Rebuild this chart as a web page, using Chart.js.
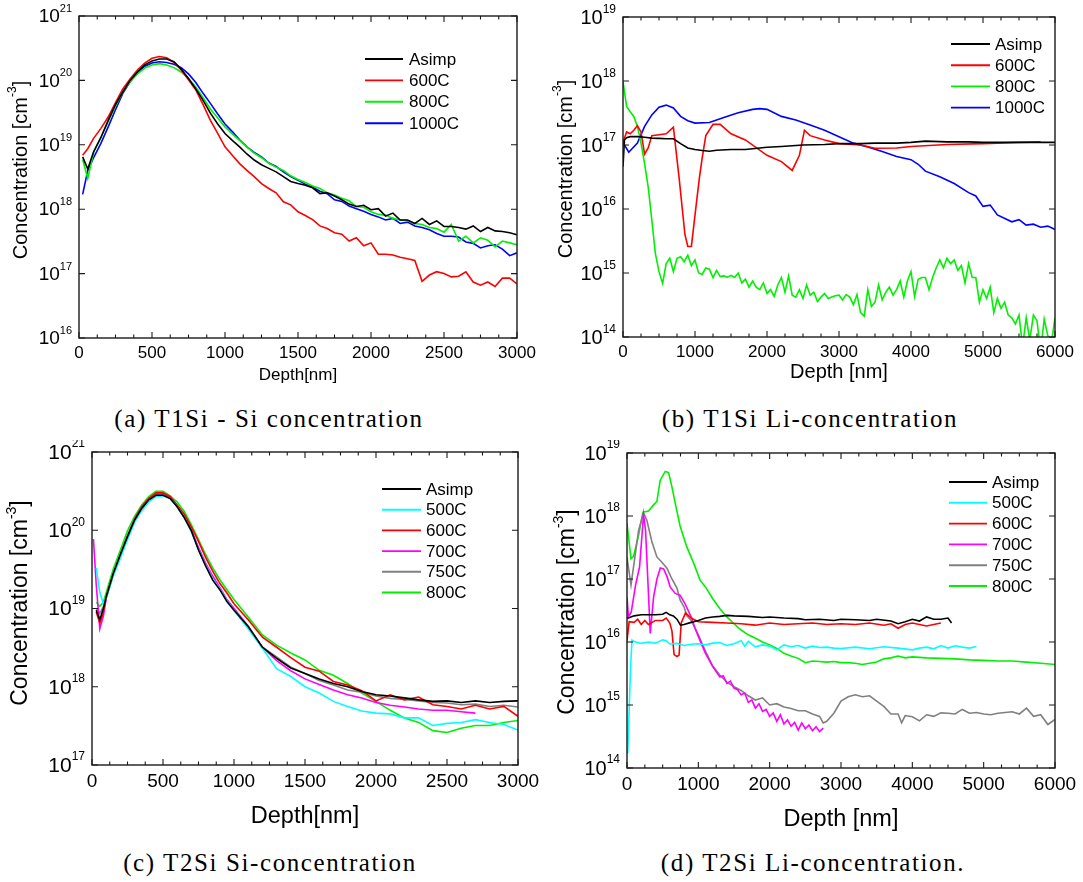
<!DOCTYPE html>
<html>
<head>
<meta charset="utf-8">
<script src="https://cdn.jsdelivr.net/npm/chart.js@4.4.0/dist/chart.umd.min.js"></script>
<style>
  body { margin: 0; background: #fff; width: 1083px; height: 882px; position: relative; overflow: hidden; }
  canvas { position: absolute; }
  .cap { position: absolute; font-family: 'Liberation Serif', 'DejaVu Serif', serif; font-size: 25px; color: #000;
         letter-spacing: 1.6px; white-space: nowrap; transform: translateX(-50%); line-height: 26px; }
</style>
</head>
<body>
<canvas id="chartA" width="540" height="400" style="left:0;top:0"></canvas>
<canvas id="chartB" width="543" height="400" style="left:540px;top:0"></canvas>
<canvas id="chartC" width="540" height="400" style="left:0;top:440px"></canvas>
<canvas id="chartD" width="543" height="400" style="left:540px;top:440px"></canvas>
<div class="cap" style="left:269px;top:406px">(a) T1Si - Si concentration</div>
<div class="cap" style="left:810px;top:406px">(b) T1Si Li-concentration</div>
<div class="cap" style="left:270px;top:850px">(c) T2Si Si-concentration</div>
<div class="cap" style="left:813px;top:850px">(d) T2Si Li-concentration.</div>
<script>
// ---------- (a) T1Si - Si concentration ----------
const aDepth = [25, 60, 100, 150, 200, 250, 300, 350, 400, 450,
  500, 550, 600, 650, 700, 750, 800, 850, 900, 950,
  1000, 1050, 1100, 1150, 1200, 1250, 1300, 1350, 1400, 1450,
  1500, 1550, 1600, 1650, 1700, 1750, 1800, 1850, 1900, 1950,
  2000, 2050, 2100, 2150, 2200, 2250, 2300, 2350, 2400, 2450,
  2500, 2550, 2600, 2650, 2700, 2750, 2800, 2850, 2900, 2950, 3000];
const aAsimp = [6.5e18, 4.2e18, 7.8e18, 1.3e19, 2.4e19, 4.2e19, 6.6e19, 1.0e20, 1.35e20, 1.74e20,
  2.0e20, 2.15e20, 2.15e20, 1.95e20, 1.5e20, 1.07e20, 7.4e19, 4.9e19, 3.1e19, 2.1e19,
  1.5e19, 1.17e19, 9.3e18, 7.2e18, 5.8e18, 4.9e18, 4.3e18, 3.8e18, 3.2e18, 2.7e18,
  2.5e18, 2.35e18, 2.15e18, 1.75e18, 1.8e18, 1.6e18, 1.4e18, 1.2e18, 1.1e18, 1.15e18,
  9.8e17, 1.02e18, 7.8e17, 8.7e17, 6.8e17, 6.8e17, 6.0e17, 7.2e17, 5.8e17, 6.6e17,
  5.4e17, 5.4e17, 5.2e17, 4.9e17, 5.5e17, 4.5e17, 5.2e17, 4.6e17, 4.5e17, 4.3e17, 4.0e17];
const a600 = [6.9e18, 8.7e18, 1.26e19, 1.8e19, 2.7e19, 4.5e19, 7.4e19, 1.05e20, 1.45e20, 1.86e20,
  2.2e20, 2.35e20, 2.25e20, 1.9e20, 1.45e20, 1.02e20, 7.1e19, 4.2e19, 2.4e19, 1.5e19,
  9.3e18, 6.9e18, 5.1e18, 4.0e18, 3.2e18, 2.5e18, 2.1e18, 1.8e18, 1.3e18, 1.17e18,
  9.1e17, 8.0e17, 6.9e17, 5.5e17, 5.0e17, 4.3e17, 4.1e17, 3.2e17, 3.6e17, 2.7e17,
  3.0e17, 2.0e17, 2.0e17, 1.95e17, 1.8e17, 1.7e17, 1.6e17, 7.6e16, 9.5e16, 1.07e17,
  1.0e17, 8.9e16, 9.1e16, 1.07e17, 7.4e16, 6.6e16, 7.4e16, 6.3e16, 8.5e16, 8.5e16, 6.9e16];
const a800 = [5.9e18, 3.0e18, 7.6e18, 1.3e19, 2.3e19, 4.0e19, 6.6e19, 9.5e19, 1.26e20, 1.55e20,
  1.74e20, 1.82e20, 1.74e20, 1.58e20, 1.35e20, 1.07e20, 7.9e19, 5.4e19, 3.6e19, 2.6e19,
  1.9e19, 1.48e19, 1.17e19, 9.3e18, 7.4e18, 6.3e18, 5.2e18, 4.5e18, 4.0e18, 3.3e18,
  2.9e18, 2.6e18, 2.3e18, 2.1e18, 1.8e18, 1.66e18, 1.48e18, 1.35e18, 1.1e18, 1.07e18,
  9.1e17, 8.3e17, 8.1e17, 7.2e17, 6.8e17, 6.6e17, 6.0e17, 5.8e17, 5.2e17, 5.0e17,
  4.4e17, 5.8e17, 3.2e17, 3.8e17, 3.0e17, 3.6e17, 3.3e17, 2.6e17, 3.2e17, 3.0e17, 2.8e17];
const a1000 = [1.7e18, 4.0e18, 6.3e18, 1.05e19, 1.9e19, 3.5e19, 6.3e19, 9.5e19, 1.32e20, 1.66e20,
  1.86e20, 1.95e20, 1.9e20, 1.78e20, 1.58e20, 1.26e20, 9.3e19, 6.3e19, 4.4e19, 3.0e19,
  2.1e19, 1.6e19, 1.2e19, 9.3e18, 7.6e18, 6.5e18, 5.2e18, 4.6e18, 3.8e18, 3.2e18,
  2.8e18, 2.45e18, 2.2e18, 1.9e18, 1.74e18, 1.4e18, 1.32e18, 1.12e18, 1.02e18, 9.3e17,
  8.3e17, 7.6e17, 6.8e17, 7.2e17, 6.0e17, 6.3e17, 5.5e17, 5.2e17, 4.8e17, 4.2e17,
  3.8e17, 3.8e17, 3.7e17, 3.1e17, 2.95e17, 2.5e17, 2.7e17, 2.8e17, 2.4e17, 1.9e17, 2.1e17];
const aXTicks = [0, 500, 1000, 1500, 2000, 2500, 3000];
const aYExp = [16, 17, 18, 19, 20, 21];

// ---------- (b) T1Si Li-concentration ----------
const bDepthAsimp = [0, 20, 50, 100, 200, 300, 400, 500, 600, 700,
  800, 900, 1000, 1100, 1200, 1300, 1500, 1700, 2000, 2200,
  2500, 2800, 3000, 3300, 3500, 3800, 4000, 4200, 4500, 4800, 5000, 5500, 6000];
const bAsimp = [4.6e16, 1.2e17, 1.3e17, 1.35e17, 1.35e17, 1.32e17, 1.28e17, 1.27e17, 1.25e17, 1.25e17,
  1.05e17, 9e16, 8.5e16, 8.2e16, 8e16, 8.3e16, 8.5e16, 8.5e16, 9.2e16, 9.5e16,
  1e17, 1.02e17, 1.05e17, 1.05e17, 1.07e17, 1.07e17, 1.1e17, 1.15e17, 1.12e17, 1.12e17, 1.1e17, 1.1e17, 1.1e17];
const bDepth600 = [0, 50, 100, 150, 200, 250, 300, 350, 400, 500,
  600, 700, 780, 860, 900, 950, 1000, 1060, 1100, 1150,
  1250, 1350, 1500, 1700, 2000, 2200, 2350, 2450, 2520, 2600,
  2800, 3000, 3300, 3500, 3800, 4000, 4500, 5000, 5500, 5800];
const b600 = [1.1e17, 1.6e17, 1.5e17, 1.7e17, 2e17, 1.6e17, 7.2e16, 9e16, 1.4e17, 1.45e17,
  1.5e17, 1.9e17, 3e16, 4e15, 2.6e15, 2.6e15, 8e15, 3e16, 6.3e16, 1.4e17,
  2.1e17, 2.1e17, 1.5e17, 1.2e17, 6.9e16, 5.5e16, 4e16, 6.9e16, 1.7e17, 1.4e17,
  1.2e17, 1.05e17, 1e17, 8.9e16, 9e16, 9.5e16, 1.02e17, 1.05e17, 1.1e17, 1.12e17];
const bDepth800 = [0, 50, 100, 150, 200, 250, 300, 350, 400, 450,
  500, 550, 600, 650, 700, 750, 800, 850, 900, 950,
  1000, 1050, 1100, 1150, 1200, 1250, 1300, 1350, 1400, 1450,
  1500, 1550, 1600, 1650, 1700, 1750, 1800, 1850, 1900, 1950,
  2000, 2050, 2100, 2150, 2200, 2250, 2300, 2350, 2400, 2450,
  2500, 2550, 2600, 2650, 2700, 2750, 2800, 2850, 2900, 2950,
  3000, 3050, 3100, 3150, 3200, 3250, 3300, 3350, 3400, 3450,
  3500, 3550, 3600, 3650, 3700, 3750, 3800, 3850, 3900, 3950,
  4000, 4050, 4100, 4150, 4200, 4250, 4300, 4350, 4400, 4450,
  4500, 4550, 4600, 4650, 4700, 4750, 4800, 4850, 4900, 4950,
  5000, 5050, 5100, 5150, 5200, 5250, 5300, 5350, 5400, 5450,
  5500, 5550, 5600, 5650, 5700, 5750, 5800, 5850, 5900, 5950, 6000];
const b800 = [9.8e17, 4e17, 3.3e17, 2.8e17, 1.95e17, 1.07e17, 5.1e16, 2.2e16, 6.8e15, 2e15,
  1.05e15, 6.9e14, 1.4e15, 1.7e15, 1.05e15, 1.7e15, 1.8e15, 1.5e15, 1.9e15, 1.3e15,
  1.6e15, 1e15, 9.5e14, 1.2e15, 1.15e15, 8.5e14, 1.1e15, 8.8e14, 9e14, 8.6e14,
  9.2e14, 8.5e14, 1.0e15, 7e14, 8e14, 6e14, 7.5e14, 6e14, 5.5e14, 7e14,
  4.8e14, 5.5e14, 4.3e14, 6.5e14, 8.5e14, 5e14, 9e14, 4.5e14, 4.2e14, 5.5e14,
  4e14, 6.5e14, 4.5e14, 5e14, 3.6e14, 4.2e14, 4.8e14, 4e14, 4.2e14, 4.4e14,
  4.5e14, 3.8e14, 4.6e14, 4.2e14, 3.2e14, 4.6e14, 2.4e14, 2.1e14, 5.5e14, 3e14,
  3.5e14, 6.5e14, 3.8e14, 5e14, 6e14, 4.5e14, 5.5e14, 7.5e14, 4.2e14, 7.5e14,
  1.05e15, 4.3e14, 8e14, 8.5e14, 8.5e14, 5.5e14, 8.5e14, 1.2e15, 1.6e15, 1.2e15,
  1.7e15, 1.4e15, 1.6e15, 1.1e15, 1.3e15, 7e14, 1.4e15, 8.5e14, 8.5e14, 3.5e14,
  5.5e14, 4e14, 6e14, 2.4e14, 4e14, 2.8e14, 3.5e14, 2.2e14, 2e14, 1.6e14,
  2.2e14, 7e13, 2e14, 9e13, 2.2e14, 1.8e14, 6e13, 1.9e14, 1.05e14, 8e13, 2e14];
const bDepth1000 = [0, 80, 200, 300, 400, 500, 600, 700, 800, 900,
  1000, 1200, 1400, 1600, 1800, 1900, 2000, 2200, 2400, 2600,
  2800, 3000, 3200, 3400, 3600, 3800, 4000, 4100, 4200, 4400,
  4600, 4800, 4900, 5000, 5100, 5200, 5400, 5500, 5600, 5700, 5800, 5900, 6000];
const b1000 = [1.1e17, 7.7e16, 1.07e17, 1.95e17, 2.95e17, 3.9e17, 4.2e17, 3.8e17, 2.8e17, 2.4e17,
  2.2e17, 2.25e17, 2.7e17, 3.2e17, 3.6e17, 3.7e17, 3.6e17, 2.8e17, 2.45e17, 2.05e17,
  1.7e17, 1.35e17, 1.07e17, 9.3e16, 7.9e16, 6.6e16, 5.9e16, 5e16, 3.9e16, 3.2e16,
  2.5e16, 1.8e16, 1.6e16, 1.1e16, 1.15e16, 8.1e15, 6.3e15, 6.8e15, 5.6e15, 5.8e15, 5.2e15, 5.4e15, 4.8e15];
const bXTicks = [0, 1000, 2000, 3000, 4000, 5000, 6000];
const bYExp = [14, 15, 16, 17, 18, 19];

// ---------- (c) T2Si Si-concentration ----------
const cDepth = [10, 30, 55, 80, 100, 150, 200, 250, 300, 350,
  400, 450, 500, 550, 600, 650, 700, 750, 800, 850,
  900, 950, 1000, 1100, 1200, 1300, 1400, 1500, 1600, 1700,
  1800, 1900, 2000, 2100, 2200, 2300, 2400, 2500, 2600, 2700,
  2800, 2900, 3000];
const cAsimp = [null, 9.5e18, 7.2e18, 1.0e19, 1.4e19, 2.8e19, 4.9e19, 8.3e19, 1.35e20, 1.9e20,
  2.45e20, 2.8e20, 2.8e20, 2.55e20, 2.0e20, 1.45e20, 9.8e19, 5.6e19, 3.5e19, 2.3e19,
  1.74e19, 1.23e19, 9.5e18, 5.9e18, 3.2e18, 2.3e18, 1.74e18, 1.48e18, 1.26e18, 1.1e18,
  1.0e18, 8.7e17, 7.9e17, 7.6e17, 7.2e17, 6.8e17, 6.5e17, 6.6e17, 6.3e17, 6.6e17,
  6.3e17, 6.5e17, 6.6e17];
const c500 = [null, 3.3e19, 1.6e19, 1.15e19, 1.35e19, 2.6e19, 4.4e19, 7.6e19, 1.26e20, 1.78e20,
  2.3e20, 2.7e20, 2.75e20, 2.55e20, 2.0e20, 1.45e20, 9.5e19, 5.6e19, 3.6e19, 2.4e19,
  1.78e19, 1.26e19, 9.5e18, 5.5e18, 3.1e18, 1.7e18, 1.35e18, 1.0e18, 8.3e17, 6.5e17,
  5.6e17, 4.9e17, 4.6e17, 4.5e17, 4.0e17, 4.0e17, 3.2e17, 3.4e17, 3.5e17, 3.8e17,
  3.5e17, 3.3e17, 2.8e17];
const c600 = [null, 9e18, 6.5e18, 9e18, 1.4e19, 2.8e19, 4.9e19, 8.5e19, 1.4e20, 2.0e20,
  2.55e20, 3.0e20, 3.0e20, 2.7e20, 2.1e20, 1.6e20, 1.1e20, 7.2e19, 4.5e19, 3.0e19,
  2.1e19, 1.58e19, 1.15e19, 7.2e18, 4.3e18, 3.2e18, 2.35e18, 1.78e18, 1.58e18, 1.17e18,
  1.05e18, 8.9e17, 6.6e17, 7.9e17, 6.8e17, 7.4e17, 5.9e17, 5.6e17, 5.2e17, 5.8e17,
  5.2e17, 5.6e17, 4.2e17];
const c700 = [7.7e19, 2e19, 5.5e18, 8e18, 1.35e19, 2.7e19, 4.8e19, 8.3e19, 1.35e20, 1.95e20,
  2.5e20, 2.95e20, 2.95e20, 2.6e20, 2.0e20, 1.45e20, 1.0e20, 6.0e19, 3.8e19, 2.6e19,
  1.86e19, 1.3e19, 1.0e19, 5.8e18, 3.2e18, 2.15e18, 1.6e18, 1.26e18, 1.07e18, 9.1e17,
  7.9e17, 7.2e17, 6.3e17, 5.8e17, 5.5e17, 5.2e17, 5.0e17, 5.0e17, 4.8e17, 4.6e17,
  null, null, null];
const c750 = [null, 1e19, 8.7e18, 1.05e19, 1.4e19, 2.8e19, 4.9e19, 8.3e19, 1.35e20, 1.9e20,
  2.45e20, 2.85e20, 2.9e20, 2.6e20, 2.0e20, 1.45e20, 1.0e20, 5.8e19, 3.6e19, 2.4e19,
  1.8e19, 1.28e19, 1.0e19, 6.0e18, 3.2e18, 2.4e18, 1.78e18, 1.48e18, 1.2e18, 1.05e18,
  9.1e17, 8.5e17, 7.6e17, 7.1e17, 6.9e17, 6.6e17, 6.3e17, 6.2e17, 5.9e17, 6.0e17,
  5.6e17, 5.8e17, 5.5e17];
const c800 = [null, 1.2e19, 1.07e19, 1.2e19, 1.6e19, 3.2e19, 5.6e19, 9.8e19, 1.5e20, 2.1e20,
  2.7e20, 3.15e20, 3.15e20, 2.75e20, 2.3e20, 1.74e20, 1.17e20, 7.6e19, 4.9e19, 3.3e19,
  2.35e19, 1.74e19, 1.3e19, 7.8e18, 4.6e18, 3.4e18, 2.7e18, 2.2e18, 1.62e18, 1.4e18,
  1.1e18, 8.3e17, 6.5e17, 5.0e17, 4.0e17, 3.5e17, 2.75e17, 2.6e17, 2.95e17, 3.2e17,
  3.2e17, 3.5e17, 3.7e17];
const cXTicks = [0, 500, 1000, 1500, 2000, 2500, 3000];
const cYExp = [17, 18, 19, 20, 21];

// ---------- (d) T2Si Li-concentration ----------
const dDepthAsimp = [0, 20, 100, 200, 300, 400, 500, 550, 600, 650,
  700, 750, 800, 900, 1000, 1100, 1200, 1300, 1400, 1500,
  1700, 1900, 2000, 2200, 2400, 2500, 2700, 2900, 3000, 3200,
  3400, 3500, 3700, 3800, 3900, 4000, 4100, 4200, 4300, 4400, 4500, 4550];
const dAsimp = [2.4e16, 2.4e16, 2.6e16, 2.7e16, 2.7e16, 2.7e16, 2.75e16, 2.95e16, 2.7e16, 2.6e16,
  2.3e16, 1.85e16, 1.9e16, 2.05e16, 2.2e16, 2.4e16, 2.5e16, 2.55e16, 2.65e16, 2.6e16,
  2.55e16, 2.45e16, 2.5e16, 2.4e16, 2.35e16, 2.25e16, 2.3e16, 2.2e16, 2.3e16, 2.25e16,
  2.2e16, 2.3e16, 2.15e16, 1.95e16, 2.1e16, 2.3e16, 2.15e16, 2.5e16, 2.3e16, 2.3e16, 2.4e16, 2.0e16];
const dDepth500 = [10, 30, 50, 70, 100, 200, 300, 400, 500, 550,
  600, 700, 800, 900, 1000, 1100, 1200, 1300, 1400, 1500,
  1600, 1650, 1700, 1800, 1900, 2000, 2100, 2200, 2300, 2400,
  2500, 2600, 2700, 2800, 2900, 3000, 3200, 3400, 3600, 3800,
  4000, 4100, 4200, 4300, 4400, 4500, 4600, 4700, 4800, 4900];
const d500 = [1.7e14, 8e14, 4e15, 1.07e16, 1.02e16, 9.5e15, 1.0e16, 9.6e15, 1.08e16, 1.05e16,
  9.3e15, 9.5e15, 8.8e15, 9.2e15, 9.4e15, 9.0e15, 9.6e15, 9.8e15, 8.8e15, 9.4e15,
  1.05e16, 8.6e15, 1.02e16, 8.4e15, 9.0e15, 8.6e15, 7.5e15, 9.0e15, 8.4e15, 8.8e15,
  8.0e15, 8.6e15, 8.2e15, 8.3e15, 8.0e15, 7.9e15, 8.3e15, 7.8e15, 8.4e15, 8.0e15,
  7.5e15, 8.0e15, 8.3e15, 7.8e15, 8.8e15, 8.0e15, 8.7e15, 8.3e15, 8.0e15, 8.5e15];
const dDepth600 = [0, 30, 100, 150, 200, 250, 300, 400, 500, 550,
  600, 630, 660, 700, 730, 760, 820, 900, 1000, 1200,
  1400, 1600, 1800, 2000, 2200, 2400, 2600, 2800, 3000, 3200,
  3400, 3600, 3700, 3800, 3900, 4000, 4200, 4400];
const d600 = [1.05e16, 2.1e16, 2.05e16, 2.3e16, 1.9e16, 2.2e16, 1.9e16, 2.2e16, 2.2e16, 2.4e16,
  2.0e16, 1.5e16, 6.3e15, 5.9e15, 6.2e15, 2.0e16, 2.9e16, 2.4e16, 2.1e16, 2.05e16,
  2.0e16, 1.95e16, 1.85e16, 2.0e16, 1.9e16, 1.95e16, 2.0e16, 1.9e16, 1.95e16, 1.9e16,
  2.0e16, 1.85e16, 1.95e16, 1.65e16, 1.9e16, 2.0e16, 1.8e16, 2.0e16];
const dDepth700 = [0, 20, 60, 120, 176, 232, 260, 326, 373, 420,
  467, 513, 560, 607, 676, 746, 816, 900, 950, 1000,
  1100, 1200, 1300, 1350, 1400, 1450, 1500, 1550, 1600, 1650,
  1700, 1750, 1800, 1850, 1900, 1950, 2000, 2050, 2100, 2150,
  2200, 2250, 2300, 2350, 2400, 2450, 2500, 2550, 2600, 2650, 2700, 2750];
const d700 = [5.2e16, 2.5e16, 3e16, 8e16, 1.55e17, 1.05e18, 6e17, 1.37e16, 5.2e16, 1e17,
  1.5e17, 1.45e17, 1.1e17, 7.4e16, 5.9e16, 5.5e16, 4e16, 2.5e16, 1.7e16, 1.23e16,
  6.6e15, 4.1e15, 2.8e15, 2.9e15, 2.2e15, 2.4e15, 1.85e15, 1.75e15, 1.45e15, 1.55e15,
  1.1e15, 1.2e15, 8.9e14, 1.05e15, 7.9e14, 8.5e14, 6.6e14, 7.5e14, 5.5e14, 7e14,
  5e14, 5.8e14, 4.6e14, 5.3e14, 4e14, 5.2e14, 4.2e14, 4.8e14, 3.9e14, 4.5e14, 3.8e14, 4.3e14];
const dDepth750 = [0, 56, 93, 163, 232, 279, 349, 419, 489, 560,
  630, 700, 746, 800, 840, 900, 1000, 1100, 1200, 1300,
  1400, 1500, 1600, 1700, 1800, 1900, 2000, 2100, 2200, 2300,
  2400, 2500, 2600, 2700, 2750, 2800, 2900, 3000, 3100, 3200,
  3300, 3400, 3500, 3600, 3700, 3800, 3850, 3900, 4000, 4100,
  4200, 4300, 4400, 4500, 4600, 4700, 4800, 4900, 5000, 5100,
  5200, 5300, 5400, 5500, 5600, 5700, 5800, 5900, 6000];
const d750 = [2.2e17, 8e16, 1.6e17, 5.9e17, 1.12e18, 8.5e17, 3.9e17, 2.24e17, 1.85e17, 1.48e17,
  1.0e17, 7.2e16, 4.6e16, 3.6e16, 2.6e16, 2.2e16, 1.3e16, 7.2e15, 4.2e15, 3.0e15,
  2.3e15, 1.95e15, 1.7e15, 1.4e15, 1.2e15, 1.3e15, 1.0e15, 1.05e15, 9.3e14, 8.8e14,
  8.1e14, 8.1e14, 7.2e14, 6.6e14, 5.2e14, 5.5e14, 7.4e14, 1.15e15, 1.35e15, 1.45e15,
  1.35e15, 1.4e15, 1.15e15, 9.5e14, 7.2e14, 7.2e14, 5.2e14, 6.8e14, 6.5e14, 5.6e14,
  7e14, 6.6e14, 7.5e14, 7.4e14, 7.2e14, 8.5e14, 7.4e14, 7.6e14, 7.2e14, 7.0e14,
  7.4e14, 7.6e14, 7.8e14, 7.2e14, 8.9e14, 6.6e14, 7e14, 4.9e14, 5.9e14];
const dDepth800 = [0, 56, 93, 163, 223, 302, 372, 419, 466, 536,
  583, 630, 676, 746, 840, 933, 1026, 1100, 1200, 1300,
  1400, 1500, 1600, 1700, 1800, 1900, 2000, 2100, 2200, 2300,
  2400, 2500, 2600, 2700, 2800, 2900, 3000, 3100, 3200, 3300,
  3400, 3500, 3600, 3700, 3800, 3900, 4000, 4200, 4400, 4600,
  4800, 5000, 5200, 5400, 5600, 5800, 6000];
const d800 = [7.6e17, 2.1e17, 2.3e17, 5e17, 1.15e18, 1.2e18, 1.5e18, 1.7e18, 3.7e18, 5.1e18,
  4.9e18, 2.9e18, 1.6e18, 6.8e17, 3.2e17, 1.8e17, 9.5e16, 7.5e16, 4.9e16, 3.4e16,
  2.5e16, 1.95e16, 1.55e16, 1.3e16, 1.15e16, 1.0e16, 9e15, 7.9e15, 6.6e15, 6.0e15,
  5.5e15, 4.7e15, 5.0e15, 4.9e15, 4.8e15, 4.9e15, 4.7e15, 4.7e15, 4.6e15, 4.4e15,
  4.6e15, 4.8e15, 5.4e15, 5.6e15, 6.0e15, 5.6e15, 5.8e15, 5.6e15, 5.5e15, 5.4e15,
  5.2e15, 5.1e15, 5.0e15, 5.0e15, 4.8e15, 4.6e15, 4.4e15];
const dXTicks = [0, 1000, 2000, 3000, 4000, 5000, 6000];
const dYExp = [14, 15, 16, 17, 18, 19];

// ---------- drawing ----------
const SANS = "Arial, 'Liberation Sans', sans-serif";
const GREEN = '#00f000';

function pts(xs, ys) {
  return xs.map((x, i) => ({ x: x, y: ys[i] }));
}

function series(label, color, xs, ys) {
  return { label: label, data: pts(xs, ys), borderColor: color, backgroundColor: color,
           borderWidth: 1.6, pointRadius: 0, tension: 0, spanGaps: false };
}

// frame, inward ticks, tick labels, axis titles and legend, drawn on top of the curves
function makeFrame(c) {
  return {
    id: 'frame',
    afterDatasetsDraw(chart) {
      const ctx = chart.ctx, a = chart.chartArea;
      const xs = chart.scales.x, ys = chart.scales.y;
      ctx.save();
      ctx.strokeStyle = '#1a1a1a';
      ctx.fillStyle = '#000';
      ctx.lineWidth = 1.1;
      ctx.beginPath();
      for (let v = xs.min; v <= xs.max + 0.001; v += c.xMinor) {
        const px = xs.getPixelForValue(v);
        const len = c.xTicks.includes(v) ? 6 : 3.5;
        ctx.moveTo(px, a.bottom); ctx.lineTo(px, a.bottom - len);
        ctx.moveTo(px, a.top); ctx.lineTo(px, a.top + len);
      }
      for (const e of c.yExp) {
        const py = ys.getPixelForValue(Math.pow(10, e));
        ctx.moveTo(a.left, py); ctx.lineTo(a.left + 6, py);
        ctx.moveTo(a.right, py); ctx.lineTo(a.right - 6, py);
      }
      ctx.stroke();
      ctx.lineWidth = 1.4;
      ctx.strokeRect(a.left, a.top, a.right - a.left, a.bottom - a.top);

      // x tick labels
      ctx.font = c.xFont + 'px ' + SANS;
      ctx.textAlign = 'center';
      ctx.textBaseline = 'middle';
      for (const v of c.xTicks) {
        ctx.fillText(String(v), xs.getPixelForValue(v), c.xLabelY);
      }
      // y tick labels 10^n
      ctx.textAlign = 'left';
      for (const e of c.yExp) {
        const py = ys.getPixelForValue(Math.pow(10, e));
        ctx.font = c.expFont + 'px ' + SANS;
        const ew = ctx.measureText(String(e)).width;
        const right = a.left - 7;
        ctx.fillText(String(e), right - ew, py - c.expRaise);
        ctx.font = c.yFont + 'px ' + SANS;
        const bw = ctx.measureText('10').width;
        ctx.fillText('10', right - ew - bw, py + 1);
      }
      // x title
      ctx.font = c.xTitleFont + 'px ' + SANS;
      ctx.textAlign = 'center';
      ctx.fillText(c.xTitle, (a.left + a.right) / 2, c.xTitleY);
      // y title with superscript
      ctx.save();
      ctx.translate(c.yTitleX, c.yTitleY);
      ctx.rotate(-Math.PI / 2);
      ctx.textAlign = 'left';
      const f1 = c.yTitleFont + 'px ' + SANS, f2 = Math.round(c.yTitleFont * 0.62) + 'px ' + SANS;
      ctx.font = f1; const w1 = ctx.measureText('Concentration [cm').width, w3 = ctx.measureText(']').width;
      ctx.font = f2; const w2 = ctx.measureText('-3').width;
      let sx = -(w1 + w2 + w3) / 2;
      ctx.font = f1; ctx.fillText('Concentration [cm', sx, 0); sx += w1;
      ctx.font = f2; ctx.fillText('-3', sx, -c.yTitleFont * 0.4); sx += w2;
      ctx.font = f1; ctx.fillText(']', sx, 0);
      ctx.restore();
      // legend
      ctx.font = c.legFont + 'px ' + SANS;
      ctx.textAlign = 'left';
      chart.data.datasets.forEach((ds, i) => {
        const y = c.legY0 + i * c.legDy;
        ctx.strokeStyle = ds.borderColor;
        ctx.lineWidth = 1.9;
        ctx.beginPath(); ctx.moveTo(c.legX1, y); ctx.lineTo(c.legX2, y); ctx.stroke();
        ctx.fillStyle = '#000';
        ctx.fillText(ds.label, c.legTx, y + 1);
      });
      ctx.restore();
    }
  };
}

function makeChart(id, datasets, xMax, yMin, yMax, pad, frameCfg) {
  return new Chart(document.getElementById(id), {
    type: 'line',
    data: { datasets: datasets },
    options: {
      responsive: false,
      animation: false,
      events: [],
      devicePixelRatio: 1,
      layout: { padding: pad },
      plugins: { legend: { display: false }, tooltip: { enabled: false } },
      scales: {
        x: { type: 'linear', min: 0, max: xMax, display: false },
        y: { type: 'logarithmic', min: yMin, max: yMax, display: false }
      }
    },
    plugins: [makeFrame(frameCfg)]
  });
}

makeChart('chartA', [
  series('Asimp', '#000000', aDepth, aAsimp),
  series('600C', '#ff0000', aDepth, a600),
  series('800C', GREEN, aDepth, a800),
  series('1000C', '#0000ff', aDepth, a1000)
], 3000, 1e16, 1e21, { left: 79, top: 16, right: 23, bottom: 62 }, {
  xTicks: aXTicks, xMinor: 125, yExp: aYExp,
  xFont: 17, yFont: 19, expFont: 11, expRaise: 7, xLabelY: 353,
  xTitle: 'Depth[nm]', xTitleFont: 17, xTitleY: 375,
  yTitleFont: 20, yTitleX: 21, yTitleY: 170,
  legFont: 17, legX1: 365, legX2: 403, legTx: 409, legY0: 59, legDy: 21.4
});

makeChart('chartB', [
  series('Asimp', '#000000', bDepthAsimp, bAsimp),
  series('600C', '#ff0000', bDepth600, b600),
  series('800C', GREEN, bDepth800, b800),
  series('1000C', '#0000ff', bDepth1000, b1000)
], 6000, 1e14, 1e19, { left: 83, top: 17, right: 28, bottom: 63 }, {
  xTicks: bXTicks, xMinor: 250, yExp: bYExp,
  xFont: 17, yFont: 20, expFont: 12, expRaise: 7, xLabelY: 352,
  xTitle: 'Depth [nm]', xTitleFont: 20, xTitleY: 372,
  yTitleFont: 20, yTitleX: 26, yTitleY: 169,
  legFont: 17, legX1: 411, legX2: 450, legTx: 455, legY0: 44, legDy: 21.2
});

makeChart('chartC', [
  series('Asimp', '#000000', cDepth, cAsimp),
  series('500C', '#00ffff', cDepth, c500),
  series('600C', '#ff0000', cDepth, c600),
  series('700C', '#ff00ff', cDepth, c700),
  series('750C', '#808080', cDepth, c750),
  series('800C', GREEN, cDepth, c800)
], 3000, 1e17, 1e21, { left: 92, top: 12, right: 22, bottom: 75 }, {
  xTicks: cXTicks, xMinor: 125, yExp: cYExp,
  xFont: 19, yFont: 21, expFont: 12, expRaise: 8, xLabelY: 342,
  xTitle: 'Depth[nm]', xTitleFont: 23.5, xTitleY: 377,
  yTitleFont: 23, yTitleX: 21, yTitleY: 163,
  legFont: 17, legX1: 382, legX2: 421, legTx: 426, legY0: 49, legDy: 20.7
});

makeChart('chartD', [
  series('Asimp', '#000000', dDepthAsimp, dAsimp),
  series('500C', '#00ffff', dDepth500, d500),
  series('600C', '#ff0000', dDepth600, d600),
  series('700C', '#ff00ff', dDepth700, d700),
  series('750C', '#808080', dDepth750, d750),
  series('800C', GREEN, dDepth800, d800)
], 6000, 1e14, 1e19, { left: 87, top: 13, right: 28, bottom: 72 }, {
  xTicks: dXTicks, xMinor: 250, yExp: dYExp,
  xFont: 19, yFont: 20, expFont: 12, expRaise: 8, xLabelY: 345,
  xTitle: 'Depth [nm]', xTitleFont: 23.5, xTitleY: 380,
  yTitleFont: 23, yTitleX: 28, yTitleY: 172,
  legFont: 17, legX1: 409, legX2: 447, legTx: 452, legY0: 42, legDy: 20.8
});
</script>
</body>
</html>
